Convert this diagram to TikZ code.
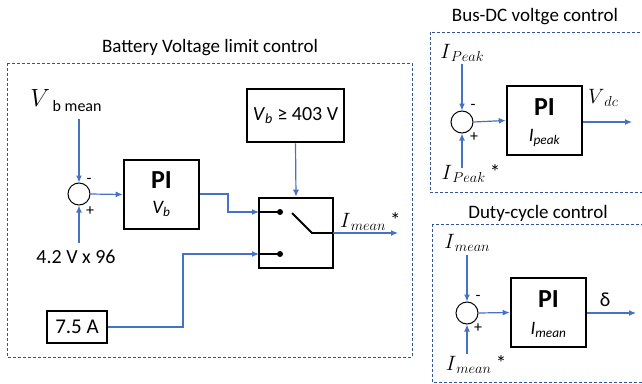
\documentclass[tikz,border=0pt]{standalone}
\usepackage{fontspec}
\setmainfont{Carlito}
\usetikzlibrary{arrows.meta}
\definecolor{lineblue}{HTML}{4472C4}
\definecolor{frameblue}{HTML}{2F5597}
\newcommand\msub[2]{$#1$\raisebox{-0.3ex}{\fontsize{15}{17}\selectfont$#2$}}
\tikzset{
  frame/.style={draw=frameblue, densely dashed, line width=0.7pt},
  blk/.style={draw=black, line width=2.6pt, inner sep=0pt},
  sumc/.style={circle, draw=black, line width=1pt, minimum size=22pt, inner sep=0pt},
  sig/.style={draw=lineblue, line width=1.2pt, -{Latex[length=7pt,width=6pt]}},
  title/.style={font=\fontsize{19}{21}\selectfont},
  lbl/.style={font=\fontsize{20}{22}\selectfont, inner sep=0pt},
  sgn/.style={font=\fontsize{16}{18}\selectfont, inner sep=0pt},
  mlbl/.style={font=\fontsize{21}{23}\selectfont, inner sep=0pt},
  pit/.style={font=\fontsize{26}{28}\selectfont\bfseries, inner sep=0pt},
  pis/.style={font=\fontsize{19}{21}\selectfont\itshape, inner sep=0pt},
}
\begin{document}
\begin{tikzpicture}[x=1pt,y=-1pt]
\useasboundingbox (0,0) rectangle (642,383);
\begin{scope}
\clip (0,0) rectangle (642,383);
\draw[frame] (7,63) rectangle (412,357);
\draw[frame] (430,32) rectangle (660,192);
\draw[frame] (432,224) rectangle (660,382);
\end{scope}
% titles
\node[title] (t1) at (210,48) {Battery Voltage limit control};
\node[title] (t2) at (535,17) {Bus-DC voltge control};
\node[title] (t3) at (538,213) {Duty-cycle control};

% ---------- Battery voltage limit control
\node[inner sep=0pt] (vbm) at (66,101) {\fontsize{23}{25}\selectfont$V$\raisebox{-0.45ex}{\fontsize{16}{18}\selectfont\,b mean}};
\node[sumc] (s1) at (79,194) {};
\node[sgn] (s1m) at (89,181) {-};
\node[sgn] (s1p) at (90,211) {+};
\node[lbl] (in1) at (76,257) {4.2 V x 96};
\coordinate (s1top) at (79,119);
\coordinate (s1bot) at (79,243);
\node[blk, minimum width=75pt, minimum height=69pt] (pi1) at (161.5,194.5) {};
\node[pit] (pi1t) at (161.5,180) {PI};
\node[pis] (pi1s) at (161.5,209) {V\textsubscript{b}};
\node[blk, minimum width=97pt, minimum height=53pt, font=\fontsize{20}{22}\selectfont] (vlim) at (295.5,115.5) {\textit{V}\textsubscript{\textit{b}} ≥ 403 V};
\node[blk, minimum width=74pt, minimum height=70pt] (sw) at (296,233) {};
\node[blk, minimum width=60pt, minimum height=32pt, font=\fontsize{21}{23}\selectfont] (c75) at (77,327) {7.5 A};
\coordinate (swin1) at (259,212);
\coordinate (swin2) at (259,254);
\coordinate (d1) at (280,212);
\coordinate (d2) at (280,254);
\coordinate (swout) at (333,233);
\coordinate (out1) at (398,233);
\node[mlbl, anchor=south west] (imo) at (340,231) {\msub{I}{mean} *};

\draw[sig] (s1top) -- (s1.north);
\draw[sig] (s1bot) -- (s1.south);
\draw[sig] (s1.east) -- (pi1.west);
\draw[sig] (pi1.east |- s1) -- (228,194) |- (swin1);
\draw[sig] (c75.east) -- (183,327) |- (swin2);
\draw[sig] (vlim.south) -- (sw.north);
\draw[sig] (swout) -- (out1);
\draw[line width=1.8pt] (swin1) -- (d1);
\draw[line width=1.8pt] (swin2) -- (d2);
\fill (d1) circle (3pt);
\fill (d2) circle (3pt);
\draw[line width=1.8pt] (292,213) -- (312,233) -- (swout);

% ---------- Bus-DC voltage control
\node[mlbl] (ipk) at (462,53) {\msub{I}{Peak}};
\coordinate (s2top) at (462,64);
\node[sumc] (s2) at (462,122) {};
\node[sgn] (s2m) at (473,107) {-};
\node[sgn] (s2p) at (474,137) {+};
\coordinate (s2bot) at (462,168);
\node[mlbl, anchor=north] (ipks) at (471,164) {\msub{I}{Peak} *};
\node[blk, minimum width=75pt, minimum height=69pt] (pi2) at (544.5,120.5) {};
\node[pit] (pi2t) at (544.5,107) {PI};
\node[pis] (pi2s) at (544.5,138) {I\textsubscript{peak}};
\coordinate (out2) at (632,122);
\node[mlbl] (vdc) at (603,98) {\msub{V}{dc}};
\draw[sig] (s2top) -- (s2.north);
\draw[sig] (s2bot) -- (s2.south);
\draw[sig] (s2.east) -- (pi2.west);
\draw[sig] (pi2.east |- s2) -- (out2);

% ---------- Duty-cycle control
\node[mlbl] (imn) at (467,243) {\msub{I}{mean}};
\coordinate (s3top) at (467,255);
\node[sumc] (s3) at (467,313) {};
\node[sgn] (s3m) at (478,298) {-};
\node[sgn] (s3p) at (478,328) {+};
\coordinate (s3bot) at (467,354);
\node[mlbl, anchor=north] (imns) at (476,355) {\msub{I}{mean} *};
\node[blk, minimum width=75pt, minimum height=69pt] (pi3) at (548.5,312.5) {};
\node[pit] (pi3t) at (548.5,299) {PI};
\node[pis] (pi3s) at (548.5,330) {I\textsubscript{mean}};
\coordinate (out3) at (636,313);
\node[font=\fontsize{20}{22}\selectfont, inner sep=0pt] (dl) at (605,300) {δ};
\draw[sig] (s3top) -- (s3.north);
\draw[sig] (s3bot) -- (s3.south);
\draw[sig] (s3.east) -- (pi3.west);
\draw[sig] (pi3.east |- s3) -- (out3);
\end{tikzpicture}
\end{document}
